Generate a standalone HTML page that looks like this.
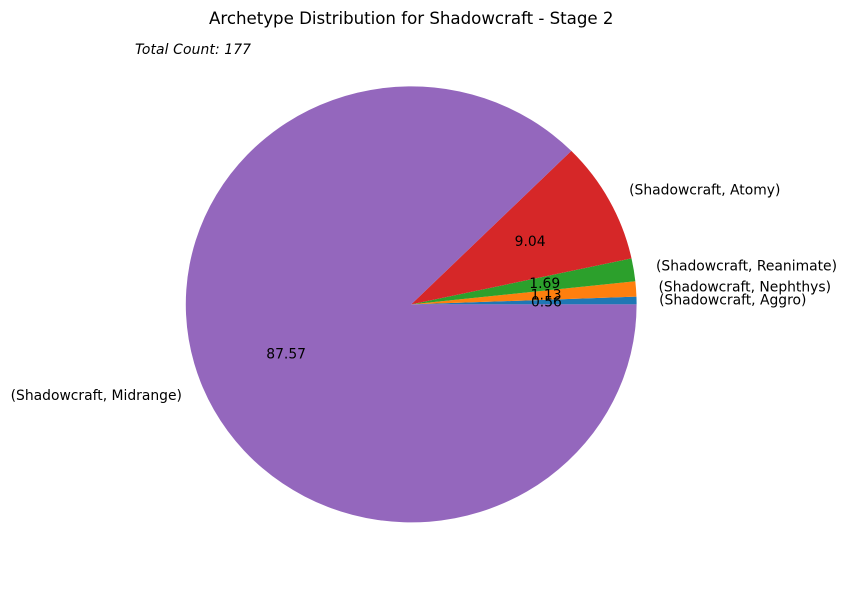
<!DOCTYPE html>
<html>
<head>
<meta charset="utf-8">
<title>Archetype Distribution for Shadowcraft - Stage 2</title>
<style>
html,body{margin:0;padding:0;background:#fff;}
svg{display:block;}
text{font-family:"DejaVu Sans","Liberation Sans",sans-serif;fill:#000;}
</style>
</head>
<body>
<svg id="chart" xmlns="http://www.w3.org/2000/svg" width="848" height="590" viewBox="0 0 848 590">
  <rect x="0" y="0" width="848" height="590" fill="#ffffff"/>
  <g id="wedges"></g>
  <g id="labels"></g>
  <text x="209" y="24" textLength="404.5" lengthAdjust="spacing" font-size="16.67">Archetype Distribution for Shadowcraft - Stage 2</text>
  <text x="135" y="54" textLength="116" lengthAdjust="spacing" font-size="13.89" font-style="italic">Total Count: 177</text>
</svg>
<script>
const categories = ["(Shadowcraft, Aggro)", "(Shadowcraft, Nephthys)", "(Shadowcraft, Reanimate)", "(Shadowcraft, Atomy)", "(Shadowcraft, Midrange)"];
const seriesValues = [1, 2, 3, 16, 155];
const wedgeColors = ["#1f77b4", "#ff7f0e", "#2ca02c", "#d62728", "#9467bd"];

const NS = "http://www.w3.org/2000/svg";
const centerX = 411.2, centerY = 304.4, radiusX = 225.4, radiusY = 218;
const total = seriesValues.reduce(function (a, b) { return a + b; }, 0);
const wedgeLayer = document.getElementById("wedges");
const labelLayer = document.getElementById("labels");

function angleOf(cumulative) { return cumulative / total * 2 * Math.PI; }
function px(angle, r) { return centerX + r * radiusX * Math.cos(angle); }
function py(angle, r) { return centerY - r * radiusY * Math.sin(angle); }

let cumulative = 0;
const percentNodes = [];
seriesValues.forEach(function (value, i) {
  const a0 = angleOf(cumulative);
  const a1 = angleOf(cumulative + value);
  const mid = (a0 + a1) / 2;
  const large = (a1 - a0) > Math.PI ? 1 : 0;

  const wedge = document.createElementNS(NS, "path");
  wedge.setAttribute("d", "M" + centerX + " " + centerY + " L" + px(a0, 1) + " " + py(a0, 1) +
    " A" + radiusX + " " + radiusY + " 0 " + large + " 0 " + px(a1, 1) + " " + py(a1, 1) + " Z");
  wedge.setAttribute("fill", wedgeColors[i]);
  
  
  wedgeLayer.appendChild(wedge);

  const label = document.createElementNS(NS, "text");
  label.setAttribute("x", px(mid, 1.1));
  label.setAttribute("y", py(mid, 1.1) + 4.2);
  label.setAttribute("font-size", "13.89");
  label.setAttribute("text-anchor", Math.cos(mid) >= 0 ? "start" : "end");
  label.textContent = categories[i];
  
  
  labelLayer.appendChild(label);

  const pct = document.createElementNS(NS, "text");
  pct.setAttribute("x", px(mid, 0.6));
  pct.setAttribute("y", py(mid, 0.6) + 4.2);
  pct.setAttribute("font-size", "13.89");
  pct.setAttribute("text-anchor", "middle");
  pct.textContent = (value / total * 100).toFixed(2);
  
  
  percentNodes.push(pct);

  cumulative += value;
});
percentNodes.forEach(function (node) { labelLayer.appendChild(node); });
</script>
</body>
</html>
